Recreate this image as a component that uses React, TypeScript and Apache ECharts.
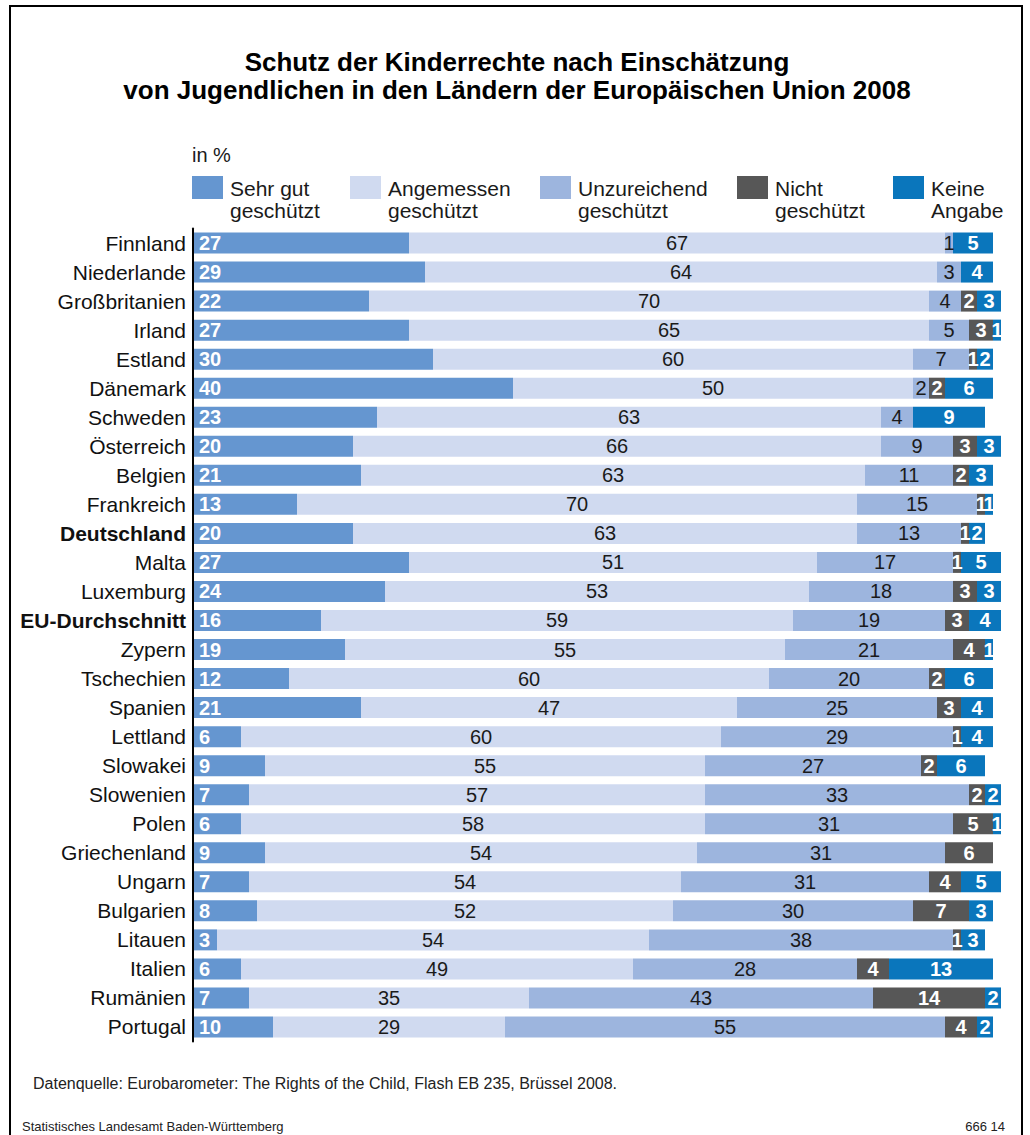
import React, { useEffect, useRef } from "react";
import * as echarts from "echarts";

const categories = [
  "Finnland", "Niederlande", "Großbritanien", "Irland", "Estland", "Dänemark", "Schweden",
  "Österreich", "Belgien", "Frankreich", "Deutschland", "Malta", "Luxemburg", "EU-Durchschnitt",
  "Zypern", "Tschechien", "Spanien", "Lettland", "Slowakei", "Slowenien", "Polen",
  "Griechenland", "Ungarn", "Bulgarien", "Litauen", "Italien", "Rumänien", "Portugal",
];
const boldCategories = ["Deutschland", "EU-Durchschnitt"];

const seriesNames = [
  "Sehr gut\ngeschützt",
  "Angemessen\ngeschützt",
  "Unzureichend\ngeschützt",
  "Nicht\ngeschützt",
  "Keine\nAngabe",
];

const sehrGut = [27, 29, 22, 27, 30, 40, 23, 20, 21, 13, 20, 27, 24, 16, 19, 12, 21, 6, 9, 7, 6, 9, 7, 8, 3, 6, 7, 10];
const angemessen = [67, 64, 70, 65, 60, 50, 63, 66, 63, 70, 63, 51, 53, 59, 55, 60, 47, 60, 55, 57, 58, 54, 54, 52, 54, 49, 35, 29];
const unzureichend = [1, 3, 4, 5, 7, 2, 4, 9, 11, 15, 13, 17, 18, 19, 21, 20, 25, 29, 27, 33, 31, 31, 31, 30, 38, 28, 43, 55];
const nicht = [0, 0, 2, 3, 1, 2, 0, 3, 2, 1, 1, 1, 3, 3, 4, 2, 3, 1, 2, 2, 5, 6, 4, 7, 1, 4, 14, 4];
const keine = [5, 4, 3, 1, 2, 6, 9, 3, 3, 1, 2, 5, 3, 4, 1, 6, 4, 4, 6, 2, 1, 0, 5, 3, 3, 13, 2, 2];

const seriesValues = [sehrGut, angemessen, unzureichend, nicht, keine];
const colors = ["#6596d0", "#d0daf0", "#9db5de", "#575757", "#0a76bc"];

const titleLines = [
  "Schutz der Kinderrechte nach Einschätzung",
  "von Jugendlichen in den Ländern der Europäischen Union 2008",
];
const unitLabel = "in %";
const sourceText = "Datenquelle: Eurobarometer: The Rights of the Child, Flash EB 235, Brüssel 2008.";
const footerLeft = "Statistisches Landesamt Baden-Württemberg";
const footerRight = "666 14";

const FONT = "'Liberation Sans', Arial, sans-serif";

export default function App() {
  const ref = useRef<HTMLDivElement>(null);

  useEffect(() => {
    if (!ref.current) return;
    const chart = echarts.init(ref.current, undefined, { renderer: "svg" });

    const legendX = [192, 350, 540, 737, 893];
    const legendGraphics: any[] = [];
    seriesNames.forEach((name, i) => {
      legendGraphics.push({
        type: "rect",
        shape: { x: legendX[i], y: 176, width: 31, height: 23 },
        style: { fill: colors[i] },
      });
      legendGraphics.push({
        type: "text",
        x: legendX[i] + 38,
        y: 177,
        style: {
          text: name,
          font: `21px ${FONT}`,
          fill: "#1a1a1a",
          lineHeight: 22,
          textVerticalAlign: "top",
        },
      });
    });

    const labelBase = { fontFamily: FONT, fontSize: 20 };
    const labelStyles: any[] = [
      { ...labelBase, position: "insideLeft", distance: 6, color: "#fff", fontWeight: "bold" },
      { ...labelBase, position: "inside", color: "#1a1a1a" },
      { ...labelBase, position: "inside", color: "#1a1a1a" },
      { ...labelBase, position: "inside", color: "#fff", fontWeight: "bold" },
      { ...labelBase, position: "inside", color: "#fff", fontWeight: "bold" },
    ];

    const option: any = {
      animation: false,
      backgroundColor: "#fff",
      textStyle: { fontFamily: FONT },
      grid: { left: 193, top: 228.5, width: 816, height: 813, containLabel: false },
      xAxis: {
        type: "value",
        min: 0,
        max: 102,
        show: false,
      },
      yAxis: {
        type: "category",
        data: categories,
        inverse: true,
        axisLine: { show: true, lineStyle: { color: "#000", width: 2 } },
        axisTick: { show: false },
        axisLabel: {
          margin: 7,
          fontFamily: FONT,
          fontSize: 21,
          color: "#111",
          formatter: (v: string) => (boldCategories.includes(v) ? `{b|${v}}` : `{n|${v}}`),
          rich: {
            b: { fontFamily: FONT, fontSize: 21, fontWeight: "bold", color: "#111" },
            n: { fontFamily: FONT, fontSize: 21, color: "#111" },
          },
        },
        z: 10,
      },
      series: seriesValues.map((vals, i) => ({
        name: seriesNames[i],
        type: "bar",
        stack: "total",
        barWidth: 21,
        clip: false,
        data: vals,
        itemStyle: { color: colors[i] },
        label: {
          show: true,
          ...labelStyles[i],
          formatter: (p: any) => (p.value ? String(p.value) : ""),
        },
      })),
      graphic: [
        {
          type: "polyline",
          shape: { points: [[10, 1140], [10, 6], [1022, 6], [1022, 1140]] },
          style: { stroke: "#000", lineWidth: 2, fill: "none" },
        },
        {
          type: "text",
          x: 517,
          y: 62,
          style: {
            text: titleLines[0],
            font: `bold 26px ${FONT}`,
            fill: "#000",
            textAlign: "center",
            textVerticalAlign: "middle",
          },
        },
        {
          type: "text",
          x: 517,
          y: 90,
          style: {
            text: titleLines[1],
            font: `bold 26px ${FONT}`,
            fill: "#000",
            textAlign: "center",
            textVerticalAlign: "middle",
          },
        },
        {
          type: "text",
          x: 192,
          y: 155,
          style: {
            text: unitLabel,
            font: `20px ${FONT}`,
            fill: "#1a1a1a",
            textVerticalAlign: "middle",
          },
        },
        ...legendGraphics,
        {
          type: "text",
          x: 33,
          y: 1083,
          style: {
            text: sourceText,
            font: `16px ${FONT}`,
            fill: "#222",
            textVerticalAlign: "middle",
          },
        },
        {
          type: "text",
          x: 22,
          y: 1126,
          style: {
            text: footerLeft,
            font: `13px ${FONT}`,
            fill: "#222",
            textVerticalAlign: "middle",
          },
        },
        {
          type: "text",
          x: 1005,
          y: 1126,
          style: {
            text: footerRight,
            font: `13px ${FONT}`,
            fill: "#222",
            textAlign: "right",
            textVerticalAlign: "middle",
          },
        },
      ],
    };

    chart.setOption(option);
    return () => chart.dispose();
  }, []);

  return (
    <div
      ref={ref}
      style={{ position: "fixed", left: 0, top: 0, width: 1030, height: 1135, background: "#fff" }}
    />
  );
}
